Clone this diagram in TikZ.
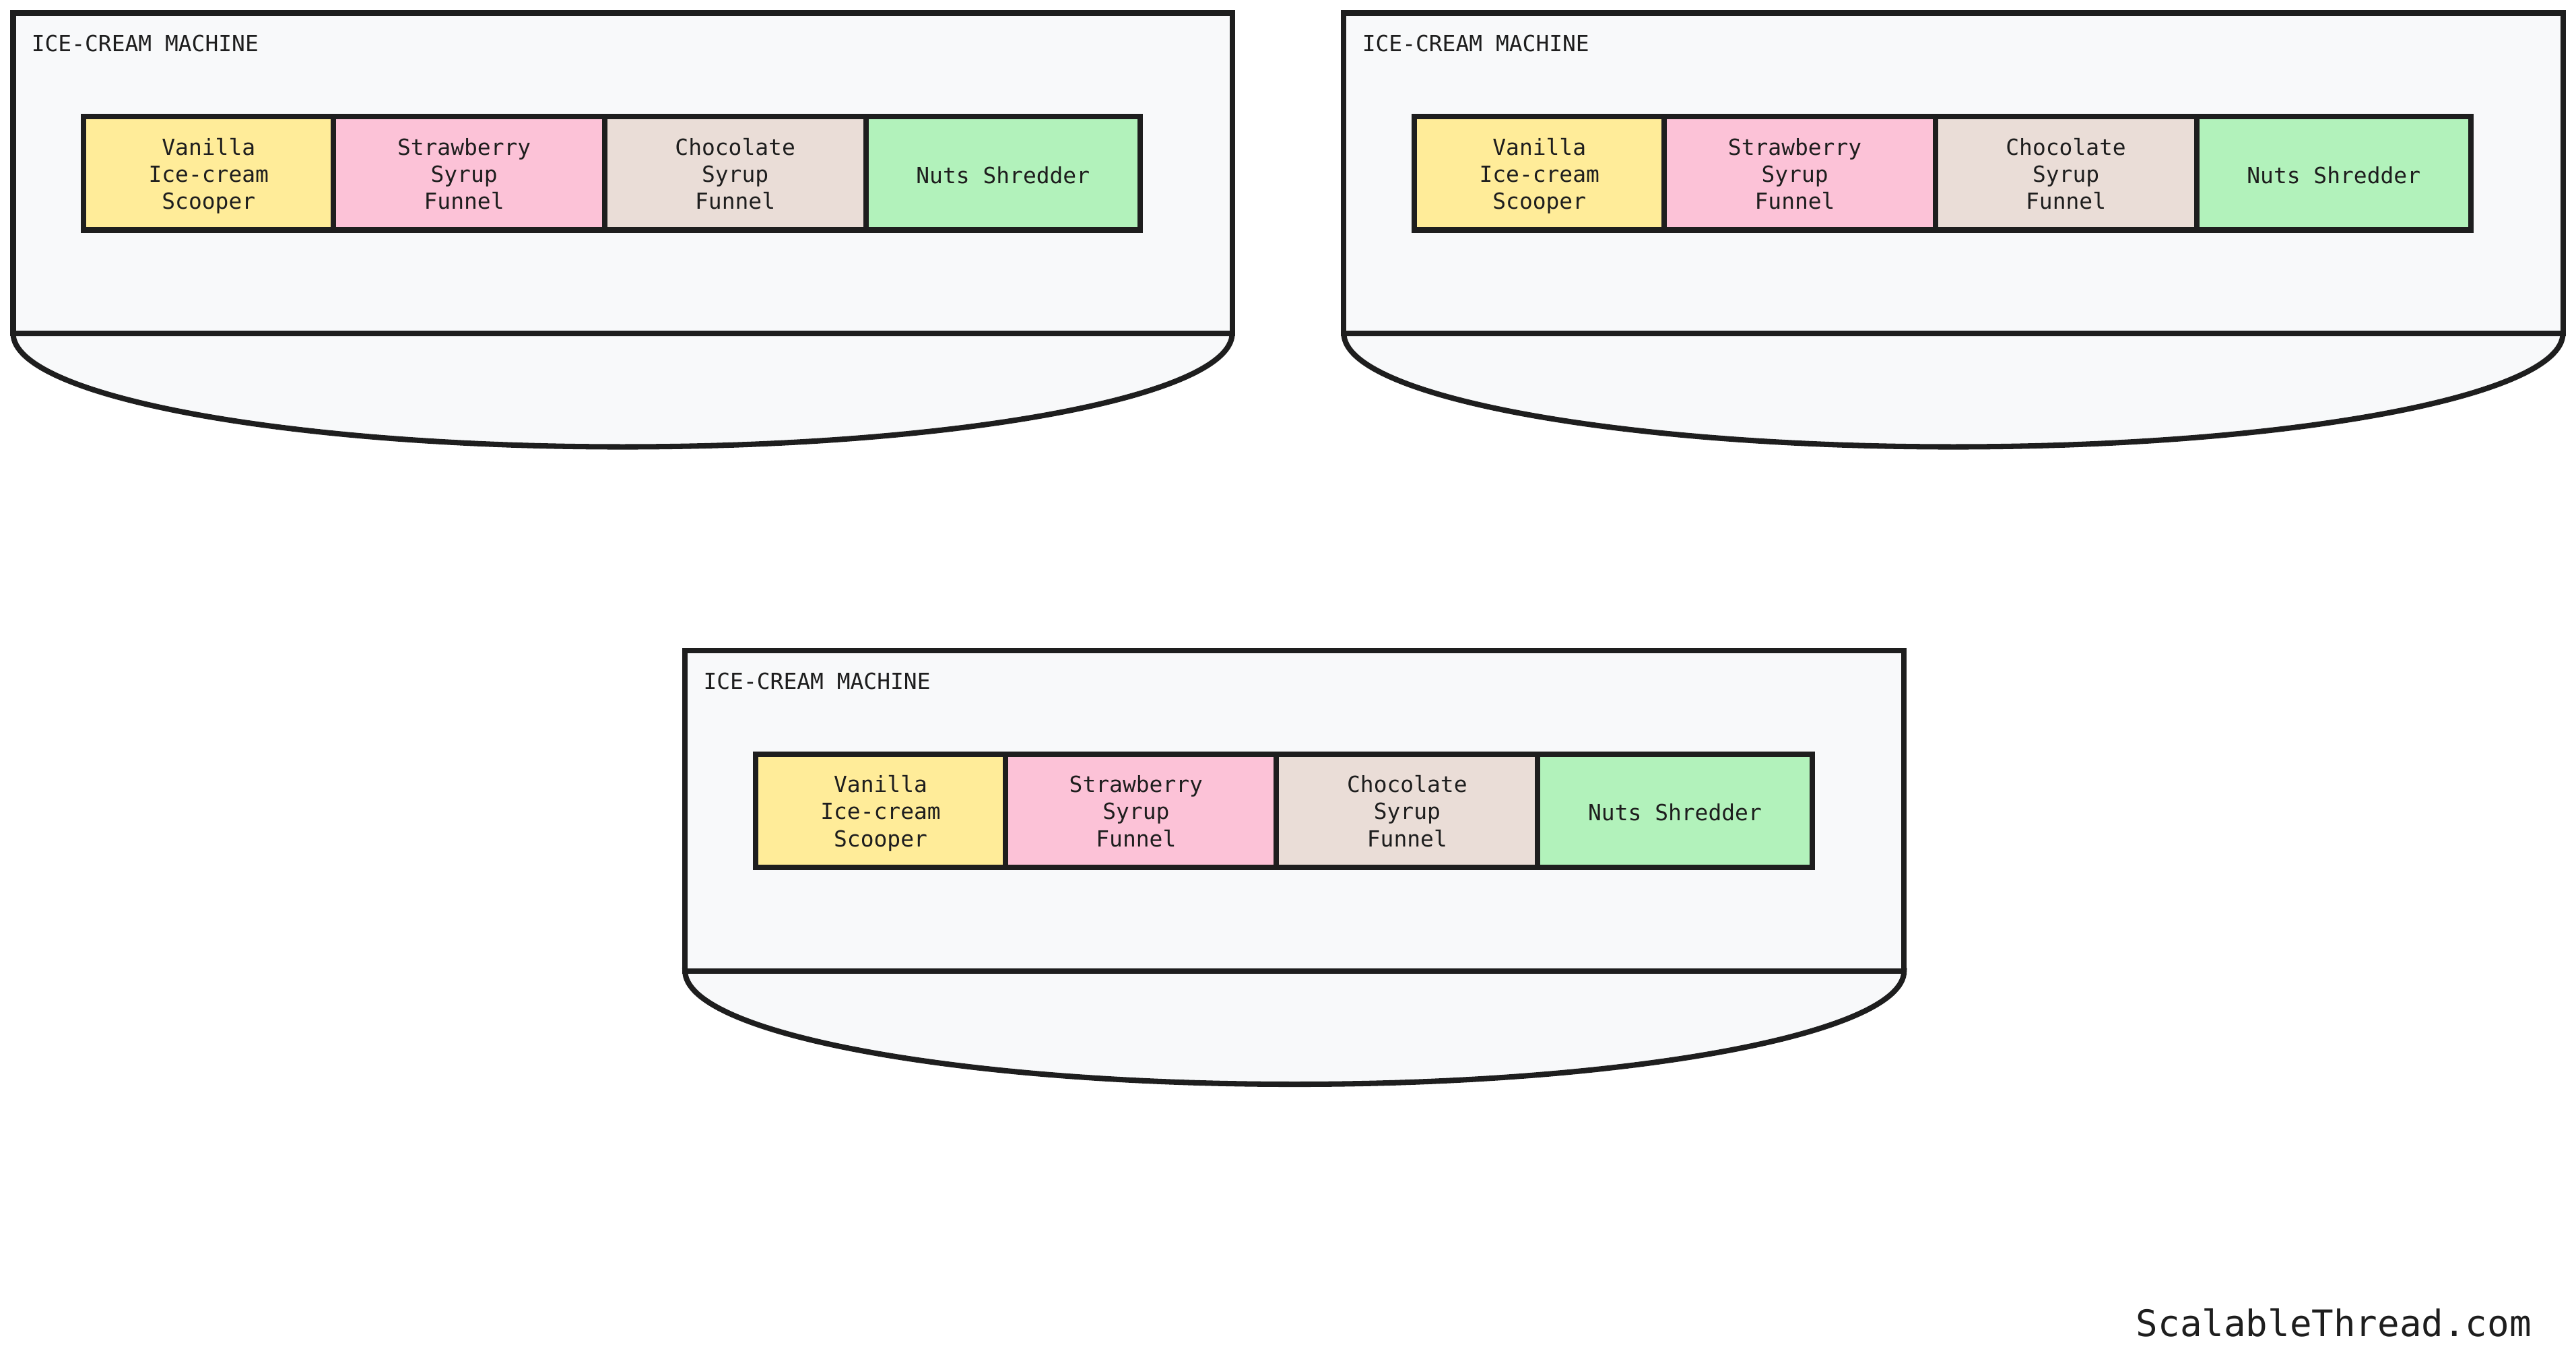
\documentclass[tikz,border=0pt]{standalone}
\usepackage{fontspec}
\newfontfamily\monof{DejaVu Sans Mono}
\definecolor{ink}{HTML}{1E1E1E}
\definecolor{machinefill}{HTML}{F8F9FA}
\definecolor{vanillaC}{HTML}{FFEC99}
\definecolor{strawC}{HTML}{FCC2D7}
\definecolor{chocoC}{HTML}{EADDD7}
\definecolor{nutsC}{HTML}{B2F2BB}
\tikzset{
  bodybox/.style={draw=ink, fill=machinefill, line width=3.3pt, minimum width=742pt, minimum height=195pt, inner sep=0pt, outer sep=0pt, anchor=north west},
  bowlline/.style={draw=ink, fill=machinefill, line width=3.3pt},
  cellbox/.style={draw=ink, line width=3.3pt, minimum height=69pt, inner sep=0pt, outer sep=0pt, anchor=north west, align=center, font=\monof\fontsize{13.5}{16.5}\selectfont, text=ink},
  titletext/.style={anchor=base west, inner sep=0pt, font=\monof\fontsize{13.5}{16.5}\selectfont, text=ink},
  brandtext/.style={anchor=base east, inner sep=0pt, font=\monof\fontsize{22.2}{26}\selectfont, text=ink}
}
\newcommand\cellthree[3]{\raisebox{-2pt}[\height][\depth]{\begin{tabular}{@{}c@{}}#1\\#2\\#3\end{tabular}}}
\newcommand\icemachine[3]{%
  \begin{scope}[shift={(#2,#3)}]
    \filldraw[bowlline] (0,195) .. controls (0,233.1) and (166.1,264) .. (371,264)
      .. controls (575.9,264) and (742,233.1) .. (742,195) -- cycle;
    \node[bodybox] (#1body) at (0,0) {};
    \node[titletext] (#1title) at (11,23.5) {ICE-CREAM MACHINE};
    \node[cellbox, fill=vanillaC, minimum width=152pt] (#1van) at (43,63) {\cellthree{Vanilla}{Ice-cream}{Scooper}};
    \node[cellbox, fill=strawC, minimum width=165pt] (#1str) at (#1van.north east) {\hspace*{-6pt}\cellthree{Strawberry}{Syrup}{Funnel}};
    \node[cellbox, fill=chocoC, minimum width=159pt] (#1cho) at (#1str.north east) {\cellthree{Chocolate}{Syrup}{Funnel}};
    \node[cellbox, fill=nutsC, minimum width=167pt] (#1nut) at (#1cho.north east) {\raisebox{-1pt}[\height][\depth]{Nuts Shredder}};
  \end{scope}}
\begin{document}
\begin{tikzpicture}[x=1pt,y=-1pt]
  \useasboundingbox[fill=white] (0,0) rectangle (1568,826.85);
  \icemachine{ma}{8}{8}
  \icemachine{mb}{818}{8}
  \icemachine{mc}{417}{396}
  \node[brandtext] (brand) at (1541,813.3) {ScalableThread.com};
\end{tikzpicture}
\end{document}
